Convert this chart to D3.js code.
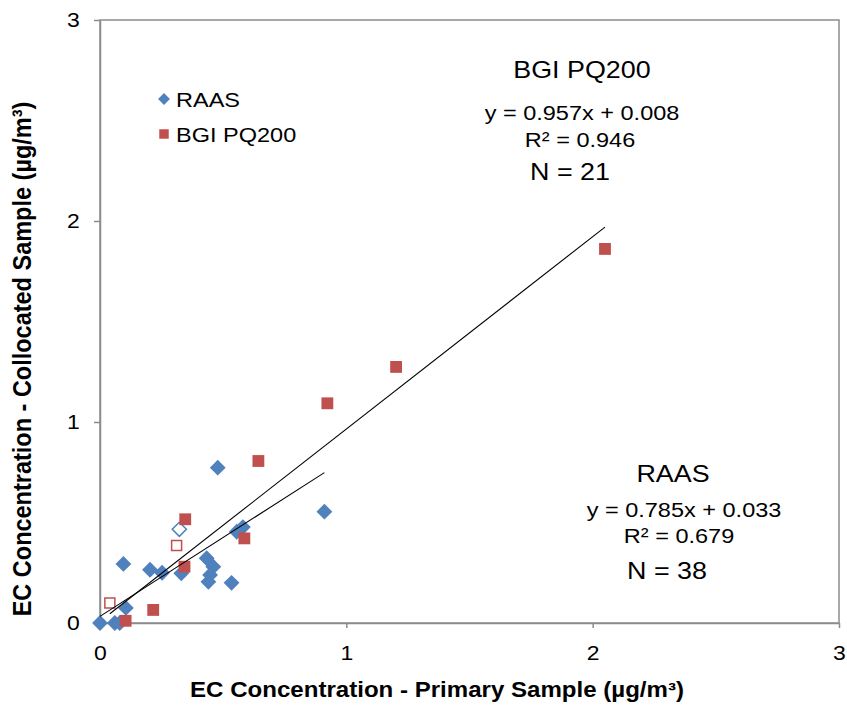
<!DOCTYPE html>
<html>
<head>
<meta charset="utf-8">
<script src="https://cdn.jsdelivr.net/npm/d3@7"></script>
<style>
  body { margin: 0; background: #fff; }
  text { font-family: "Liberation Sans", Arial, sans-serif; fill: #000; }
</style>
</head>
<body>
<div id="chart"></div>
<script>
// data
var raasX = [0, 0.06, 0.08, 0.105, 0.095, 0.203, 0.252, 0.33, 0.433, 0.46, 0.447, 0.44, 0.534, 0.555, 0.58, 0.478, 0.911];
var raasY = [0, 0, 0, 0.075, 0.294, 0.265, 0.25, 0.247, 0.322, 0.28, 0.239, 0.205, 0.2, 0.454, 0.477, 0.773, 0.554];
var raasOpenX = [0.322];
var raasOpenY = [0.466];
var bgiX = [0.104, 0.216, 0.343, 0.346, 0.586, 0.643, 0.923, 1.202, 2.05];
var bgiY = [0.011, 0.065, 0.28, 0.516, 0.421, 0.806, 1.093, 1.274, 1.861];
var bgiOpenX = [0.04, 0.311];
var bgiOpenY = [0.10, 0.386];

var seriesNames = ["RAAS", "BGI PQ200"];
var slopes = [0.785, 0.957];
var intercepts = [0.033, 0.008];
var rSquared = ["0.679", "0.946"];
var counts = [38, 21];
var ticks = [0, 1, 2, 3];

var blue = "#4f81bd", red = "#c0504d";
var sx = 1.12; // reference text is a bit wide

// set the dimensions and margins of the graph
var margin = {top: 20, right: 8, bottom: 83, left: 100},
    width = 739,
    height = 603;

var svg = d3.select("#chart")
  .append("svg")
    .attr("width", 847)
    .attr("height", 706);

var chart = svg.append("g")
    .attr("transform", "translate(" + margin.left + "," + margin.top + ")");

var x = d3.scaleLinear().domain([0, 3]).range([0, width]);
var y = d3.scaleLinear().domain([0, 3]).range([height, 0]);

// plot frame
chart.append("rect")
  .attr("width", width)
  .attr("height", height)
  .attr("fill", "none")
  .attr("stroke", "#8c8c8c")
  .attr("stroke-width", 1.5);

var xAxis = chart.append("g")
  .attr("transform", "translate(0," + height + ")")
  .call(d3.axisBottom(x).tickValues(ticks).tickFormat(d3.format("d"))
    .tickSizeInner(5).tickSizeOuter(0).tickPadding(17));

var yAxis = chart.append("g")
  .call(d3.axisLeft(y).tickValues(ticks).tickFormat(d3.format("d"))
    .tickSizeInner(6).tickSizeOuter(0).tickPadding(12));

[xAxis, yAxis].forEach(function(a) {
  a.selectAll("path, line").attr("stroke", "#8c8c8c").attr("stroke-width", 1.5);
  a.selectAll("text")
    .attr("transform", "scale(" + sx + ",1)")
    .style("font-size", "20.5px")
    .style("font-family", "Liberation Sans, Arial, sans-serif")
    .attr("fill", "#000");
});

function zip(xs, ys) { return xs.map(function(v, i) { return [v, ys[i]]; }); }

var diamond = d3.symbol().type(d3.symbolSquare).size(125);
var square = d3.symbol().type(d3.symbolSquare).size(140);

function pos(d) { return "translate(" + x(d[0]) + "," + y(d[1]) + ")"; }

// RAAS
chart.selectAll(".raas")
  .data(zip(raasX, raasY))
  .enter().append("path")
    .attr("d", diamond)
    .attr("transform", function(d) { return pos(d) + " rotate(45)"; })
    .attr("fill", blue);

chart.selectAll(".raasOpen")
  .data(zip(raasOpenX, raasOpenY))
  .enter().append("path")
    .attr("d", d3.symbol().type(d3.symbolSquare).size(100))
    .attr("transform", function(d) { return pos(d) + " rotate(45)"; })
    .attr("fill", "#fff")
    .attr("stroke", blue)
    .attr("stroke-width", 1.5);

// BGI PQ200
chart.selectAll(".bgi")
  .data(zip(bgiX, bgiY))
  .enter().append("path")
    .attr("d", square)
    .attr("transform", pos)
    .attr("fill", red);

chart.selectAll(".bgiOpen")
  .data(zip(bgiOpenX, bgiOpenY))
  .enter().append("path")
    .attr("d", d3.symbol().type(d3.symbolSquare).size(100))
    .attr("transform", pos)
    .attr("fill", "#fff")
    .attr("stroke", red)
    .attr("stroke-width", 1.5);

// trendlines over each series' x range
var ranges = [
  d3.extent(raasX.concat(raasOpenX)),
  d3.extent(bgiX.concat(bgiOpenX))
];
ranges.forEach(function(r, i) {
  chart.append("path")
    .datum(r.map(function(v) { return [v, slopes[i] * v + intercepts[i]]; }))
    .attr("fill", "none")
    .attr("stroke", "#000")
    .attr("stroke-width", 1.1)
    .attr("d", d3.line()
      .x(function(d) { return x(d[0]); })
      .y(function(d) { return y(d[1]); }));
});

// text helper, stretched a little sideways like the original
function label(px, py, str, size, anchor, bold) {
  return svg.append("text")
    .attr("transform", "translate(" + px + "," + py + ") scale(" + sx + ",1)")
    .attr("text-anchor", anchor || "middle")
    .style("font-size", size + "px")
    .style("font-weight", bold ? "bold" : "normal")
    .text(str);
}

// legend
svg.append("path")
  .attr("d", d3.symbol().type(d3.symbolSquare).size(70))
  .attr("transform", "translate(164,99) rotate(45)")
  .attr("fill", blue);
svg.append("path")
  .attr("d", d3.symbol().type(d3.symbolSquare).size(90))
  .attr("transform", "translate(164,134)")
  .attr("fill", red);
label(176, 107, seriesNames[0], 21, "start");
label(176, 142, seriesNames[1], 21, "start");

// regression annotations
label(582, 78, seriesNames[1], 24);
label(582, 120, "y = " + slopes[1].toFixed(3) + "x + " + intercepts[1].toFixed(3), 21);
label(580, 147, "R\u00b2 = " + rSquared[1], 21);
label(570, 180, "N = " + counts[1], 24);

label(673, 482, seriesNames[0], 24);
label(684, 517, "y = " + slopes[0].toFixed(3) + "x + " + intercepts[0].toFixed(3), 21);
label(679, 543, "R\u00b2 = " + rSquared[0], 21);
label(667, 579, "N = " + counts[0], 24);

// axis titles
label(437, 697, "EC Concentration - Primary Sample (\u00b5g/m\u00b3)", 21.5, "middle", true);

svg.append("text")
  .attr("transform", "translate(31," + 359 + ") rotate(-90) scale(1," + sx + ")")
  .attr("text-anchor", "middle")
  .style("font-size", "23.5px")
  .style("font-weight", "bold")
  .text("EC Concentration - Collocated Sample (\u00b5g/m\u00b3)");
</script>
</body>
</html>
